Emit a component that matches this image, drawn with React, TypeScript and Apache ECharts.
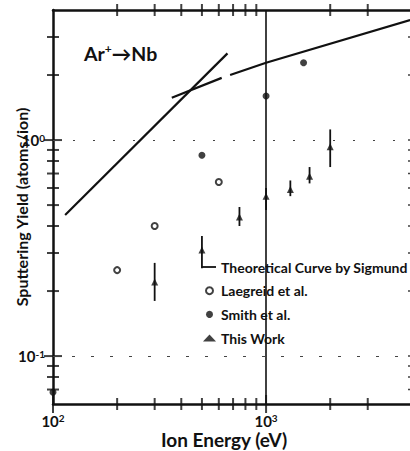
import React, { useEffect, useRef } from 'react';
import * as echarts from 'echarts';

// Axis ranges
const xMin = 100;
const xMax = 5000;
const yMin = 0.06;
const yMax = 4;

// Theoretical curve by Sigmund, drawn in pieces
const theoryLowEnergy = [114, 659];
const theoryLowYield = [0.45, 2.52];
const theoryMidEnergy = [361, 619];
const theoryMidYield = [1.57, 1.94];
const theoryHighEnergy = [678, 1000, 4740, 5000];
const theoryHighYield = [2.0, 2.28, 3.59, 3.66];

// Laegreid et al. (open circles)
const laegreidEnergy = [200, 300, 600];
const laegreidYield = [0.25, 0.4, 0.64];

// Smith et al. (filled circles)
const smithEnergy = [100, 500, 1000, 1500];
const smithYield = [0.068, 0.85, 1.6, 2.28];

// This work (triangles with error bars)
const thisEnergy = [300, 500, 750, 1000, 1300, 1600, 2000];
const thisYield = [0.22, 0.31, 0.44, 0.55, 0.59, 0.68, 0.93];
const thisLow = [0.18, 0.255, 0.4, 0.475, 0.55, 0.63, 0.75];
const thisHigh = [0.27, 0.36, 0.49, 0.6, 0.65, 0.75, 1.12];

// Ticks
const xMajorTicks = [100, 1000];
const xMinorTicks = [200, 300, 400, 500, 600, 700, 800, 900, 2000, 3000];
const yMajorTicks = [0.1, 1];
const yMinorTicks = [0.07, 0.08, 0.09, 0.2, 0.3, 0.4, 0.5, 0.6, 0.7, 0.8, 0.9, 2, 3];

const legendNames = ['Theoretical Curve by Sigmund', 'Laegreid et al.', 'Smith et al.', 'This Work'];

const INK = '#111';
const FONT = 'Lato';

const pairs = (xs: number[], ys: number[]) => xs.map((x, i) => [x, ys[i]]);

const powLabel = (v: number) => {
  const e = Math.round(Math.log10(v));
  return `{b|10}{s|${e}}`;
};

const labelRich = {
  b: { fontSize: 15, fontWeight: 'bold', fontFamily: FONT, color: INK, lineHeight: 15 },
  s: { fontSize: 10, fontWeight: 'bold', fontFamily: FONT, color: INK, verticalAlign: 'top', lineHeight: 9 },
};

// tick marks: rect symbols centred on the plot edge
const tickMarks = (name: string, data: number[][], size: number[]) => ({
  type: 'scatter',
  name,
  data,
  symbol: 'rect',
  symbolSize: size,
  itemStyle: { color: INK },
  z: 3,
});

export default function App() {
  const ref = useRef<HTMLDivElement>(null);
  useEffect(() => {
    if (!ref.current) return;
    const chart = echarts.init(ref.current, null, { renderer: 'svg' });
    const lineAxis = { show: true, lineStyle: { color: INK, width: 2.5 } };
    const option: any = {
      animation: false,
      backgroundColor: '#fff',
      textStyle: { fontFamily: FONT, fontWeight: 'bold', color: INK },
      title: {
        text: '{a|Ar}{s|+}{a|→Nb}',
        left: 84,
        top: 42,
        padding: 0,
        textStyle: {
          rich: {
            a: { fontSize: 19.5, fontWeight: 'bold', fontFamily: FONT, color: INK, lineHeight: 22 },
            s: { fontSize: 12, fontWeight: 'bold', fontFamily: FONT, color: INK, verticalAlign: 'top', lineHeight: 10 },
          },
        },
      },
      grid: { left: 53, right: 5, top: 10, bottom: 47, containLabel: false, outerBoundsMode: 'none' },
      graphic: [
        {
          type: 'line',
          shape: { x1: 202, y1: 267, x2: 216, y2: 267 },
          style: { stroke: INK, lineWidth: 1.8 },
          silent: true,
        },
      ],
      legend: {
        orient: 'vertical',
        left: 203,
        top: 260,
        padding: 0,
        itemWidth: 13,
        itemHeight: 7,
        itemGap: 9.7,
        selectedMode: false,
        textStyle: { fontFamily: FONT, fontWeight: 'bold', fontSize: 14, color: INK, lineHeight: 14 },
        data: [
          { name: legendNames[0], icon: 'none' },
          legendNames[1],
          legendNames[2],
          legendNames[3],
        ],
      },
      xAxis: [
        {
          type: 'log',
          min: xMin,
          max: xMax,
          position: 'bottom',
          splitLine: { show: false },
          axisLine: lineAxis,
          axisTick: { show: false },
          axisLabel: { show: true, customValues: xMajorTicks, formatter: powLabel, rich: labelRich, margin: 9 },
          name: 'Ion Energy (eV)',
          nameLocation: 'middle',
          nameGap: 26,
          nameMoveOverlap: false,
          nameTextStyle: { fontSize: 19, fontWeight: 'bold', fontFamily: FONT, color: INK, padding: [0, 20, 0, 0] },
        },
        {
          type: 'log',
          min: xMin,
          max: xMax,
          position: 'top',
          splitLine: { show: false },
          axisLine: lineAxis,
          axisTick: { show: false },
          axisLabel: { show: false },
        },
      ],
      yAxis: [
        {
          type: 'log',
          min: yMin,
          max: yMax,
          position: 'left',
          splitLine: { show: false },
          axisLine: lineAxis,
          axisTick: { show: false },
          axisLabel: { show: true, customValues: yMajorTicks, formatter: powLabel, rich: labelRich, margin: 8 },
          name: 'Sputtering Yield (atoms/ion)',
          nameLocation: 'middle',
          nameGap: 24,
          nameRotate: 90,
          nameMoveOverlap: false,
          nameTextStyle: { fontSize: 16, fontWeight: 'bold', fontFamily: FONT, color: INK },
        },
        {
          type: 'log',
          min: yMin,
          max: yMax,
          position: 'right',
          splitLine: { show: false },
          axisLine: lineAxis,
          axisTick: { show: false },
          axisLabel: { show: false },
        },
      ],
      series: [
        {
          name: legendNames[0],
          type: 'line',
          data: pairs(theoryLowEnergy, theoryLowYield),
          symbol: 'none',
          lineStyle: { color: INK, width: 2.2 },
          itemStyle: { color: INK },
        },
        {
          name: legendNames[0],
          type: 'line',
          data: pairs(theoryMidEnergy, theoryMidYield),
          symbol: 'none',
          lineStyle: { color: INK, width: 2.2 },
          itemStyle: { color: INK },
        },
        {
          name: legendNames[0],
          type: 'line',
          data: pairs(theoryHighEnergy, theoryHighYield),
          symbol: 'none',
          lineStyle: { color: INK, width: 2.2 },
          itemStyle: { color: INK },
        },
        {
          name: 'errorbars',
          type: 'custom',
          data: thisEnergy.map((e, i) => [e, thisLow[i], thisHigh[i]]),
          encode: { x: 0, y: [1, 2] },
          renderItem: (params: any, api: any) => {
            const x = api.value(0);
            const lo = api.coord([x, api.value(1)]);
            const hi = api.coord([x, api.value(2)]);
            return {
              type: 'line',
              shape: { x1: lo[0], y1: lo[1], x2: hi[0], y2: hi[1] },
              style: { stroke: INK, lineWidth: 1.8 },
            };
          },
          z: 3,
        },
        tickMarks('ticks-b-major', xMajorTicks.map((v) => [v, yMin]), [2, 18]),
        tickMarks('ticks-b-minor', xMinorTicks.map((v) => [v, yMin]), [2, 12]),
        tickMarks('ticks-t-minor', xMinorTicks.map((v) => [v, yMax]), [2, 12]),
        tickMarks('ticks-l-major', yMajorTicks.map((v) => [xMin, v]), [18, 2]),
        tickMarks('ticks-l-minor', yMinorTicks.map((v) => [xMin, v]), [12, 2]),
        tickMarks('ticks-r', [...yMajorTicks, ...yMinorTicks].map((v) => [xMax, v]), [14, 1.5]),
        {
          name: legendNames[1],
          type: 'scatter',
          data: pairs(laegreidEnergy, laegreidYield),
          symbol: 'emptyCircle',
          symbolSize: 6,
          itemStyle: { color: INK, borderColor: INK, borderWidth: 1.5 },
          markLine: {
            silent: true,
            symbol: ['none', 'none'],
            label: { show: false },
            data: [
              { yAxis: 1, lineStyle: { color: '#444', width: 1, type: [2, 18] } },
              { yAxis: 0.1, lineStyle: { color: '#444', width: 1, type: [3, 16] } },
              { xAxis: 1000, lineStyle: { color: INK, width: 1.6, type: 'solid' } },
            ],
          },
          z: 4,
        },
        {
          name: legendNames[2],
          type: 'scatter',
          data: pairs(smithEnergy, smithYield),
          symbol: 'circle',
          symbolSize: 7,
          itemStyle: { color: INK },
          z: 4,
        },
        {
          name: legendNames[3],
          type: 'scatter',
          data: pairs(thisEnergy, thisYield),
          symbol: 'triangle',
          symbolSize: 7,
          itemStyle: { color: INK },
          z: 4,
        },
      ],
    };
    chart.setOption(option);
    return () => chart.dispose();
  }, []);
  return (
    <div style={{ position: 'absolute', left: 0, top: 0, width: 410, height: 451, overflow: 'hidden', background: '#fff' }}>
      <div ref={ref} style={{ width: 420, height: 451 }} />
    </div>
  );
}
